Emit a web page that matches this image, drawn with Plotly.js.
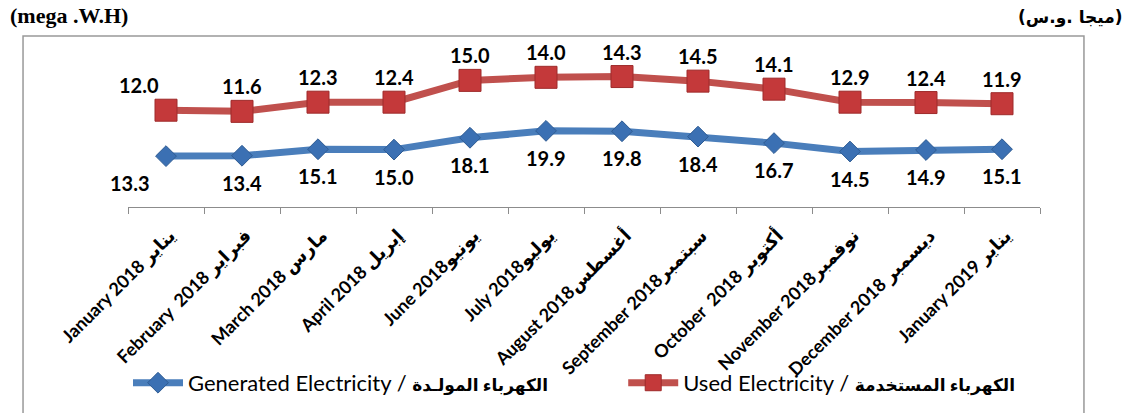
<!DOCTYPE html>
<html>
<head>
<meta charset="utf-8">
<script src="https://cdn.plot.ly/plotly-3.0.1.min.js"></script>
<style>html,body{margin:0;padding:0;background:#fff;}#chart{width:1131px;height:413px;}</style>
</head>
<body>
<div id="chart"></div>
<script>
// Data
var categories = [
  "January 2018 يناير",
  "February  2018 فبراير",
  "March 2018 مارس",
  "April 2018 إبريل",
  "June 2018يونيو",
  "July 2018يوليو",
  "August 2018أغسطس",
  "September 2018سبتمبر",
  "October  2018 أكتوبر",
  "November 2018نوفمبر",
  "December 2018 ديسمبر",
  "January 2019 يناير"
];
var generated = [13.3, 13.4, 15.1, 15.0, 18.1, 19.9, 19.8, 18.4, 16.7, 14.5, 14.9, 15.1];
var used = [12.0, 11.6, 12.3, 12.4, 15.0, 14.0, 14.3, 14.5, 14.1, 12.9, 12.4, 11.9];
var generatedEn = "Generated Electricity / ";
var generatedAr = "الكهرباء المولـدة";
var usedEn = "Used Electricity / ";
var usedAr = "الكهرباء المستخدمة";
var unitEn = "(mega .W.H)";
var unitAr = "(ميجا .و.س)";

// label placement styling (pixel nudges, as in the original chart)
var genLabelNudgeX = [-36, 0, 0, 0, 0, 0, 0, 0, 0, 0, 0, 0];
var usedLabelNudgeX = [-27, 0, 0, 0, 0, 0, 0, 0, 0, 0, 0, 0];

function legendName(en, ar) {
  return en + '<span style="font-size:17px;font-weight:bold">' + ar + '</span>';
}

var labelFont = {family: "Lato, 'DejaVu Sans', sans-serif", size: 20, color: "#000", weight: "bold"};

var traces = [
  {
    x: categories, y: generated, name: legendName(generatedEn, generatedAr), type: "scatter", mode: "lines+markers",
    stackgroup: "one", fill: "none", legend: "legend",
    line: {color: "#4A7EBB", width: 7},
    marker: {symbol: "diamond", size: 16, color: "#3B70B3", line: {color: "#2F5C93", width: 1}},
    hoverinfo: "skip"
  },
  {
    x: categories, y: used, name: legendName(usedEn, usedAr), type: "scatter", mode: "lines+markers",
    stackgroup: "one", fill: "none", legend: "legend2",
    line: {color: "#C0504D", width: 7},
    marker: {symbol: "square", size: 22, color: "#C4393A", line: {color: "#9E2A2A", width: 1}},
    hoverinfo: "skip"
  }
];

var annotations = [];
for (var i = 0; i < categories.length; i++) {
  annotations.push({x: categories[i], y: generated[i], xref: "x", yref: "y", text: generated[i].toFixed(1),
    showarrow: false, yshift: -27, xshift: genLabelNudgeX[i], font: labelFont});
  annotations.push({x: categories[i], y: generated[i] + used[i], xref: "x", yref: "y", text: used[i].toFixed(1),
    showarrow: false, yshift: 25, xshift: usedLabelNudgeX[i], font: labelFont});
}
annotations.push({xref: "paper", yref: "paper", x: -0.1316, y: 1.12, xanchor: "left", yanchor: "middle",
  text: "<b>" + unitEn + "</b>", showarrow: false,
  font: {family: "'Liberation Serif', 'Times New Roman', serif", size: 22, color: "#000"}});
annotations.push({xref: "paper", yref: "paper", x: 1.0932, y: 1.11, xanchor: "right", yanchor: "middle",
  text: "<b>" + unitAr + "</b>", showarrow: false,
  font: {family: "'DejaVu Sans', sans-serif", size: 17, color: "#000"}});

var legendCommon = {
  orientation: "h", xanchor: "left", y: -1.017, yanchor: "middle",
  itemwidth: 50,
  font: {family: "Lato, 'DejaVu Sans', sans-serif", size: 22, color: "#000"},
  bgcolor: "rgba(0,0,0,0)"
};

var layout = {
  width: 1131, height: 413,
  margin: {l: 128, r: 91, t: 36, b: 205, pad: 0},
  paper_bgcolor: "#fff", plot_bgcolor: "#fff",
  showlegend: true,
  xaxis: {
    type: "category", range: [-0.5, 11.5], showgrid: false, zeroline: false,
    showline: true, linecolor: "#8C8C8C", linewidth: 1,
    ticks: "outside", tickson: "boundaries", ticklen: 6, tickcolor: "#8C8C8C",
    tickangle: -45, automargin: false, ticklabelstandoff: 10, ticklabelshift: 4,
    tickfont: {family: "Lato, 'DejaVu Sans', sans-serif", size: 18, color: "#000", weight: "bold"},
    fixedrange: true
  },
  yaxis: {visible: false, range: [0, 44.7], showgrid: false, zeroline: false, fixedrange: true},
  legend: Object.assign({x: 0.0}, legendCommon),
  legend2: Object.assign({x: 0.543}, legendCommon),
  shapes: [{
    type: "rect", xref: "paper", yref: "paper", x0: -0.1151, x1: 1.0482, y0: -1.4, y1: 1.0,
    line: {color: "#999", width: 1.5}, fillcolor: "rgba(0,0,0,0)", layer: "below"
  }],
  annotations: annotations
};

Plotly.newPlot("chart", traces, layout, {displayModeBar: false, staticPlot: true});
</script>
</body>
</html>
